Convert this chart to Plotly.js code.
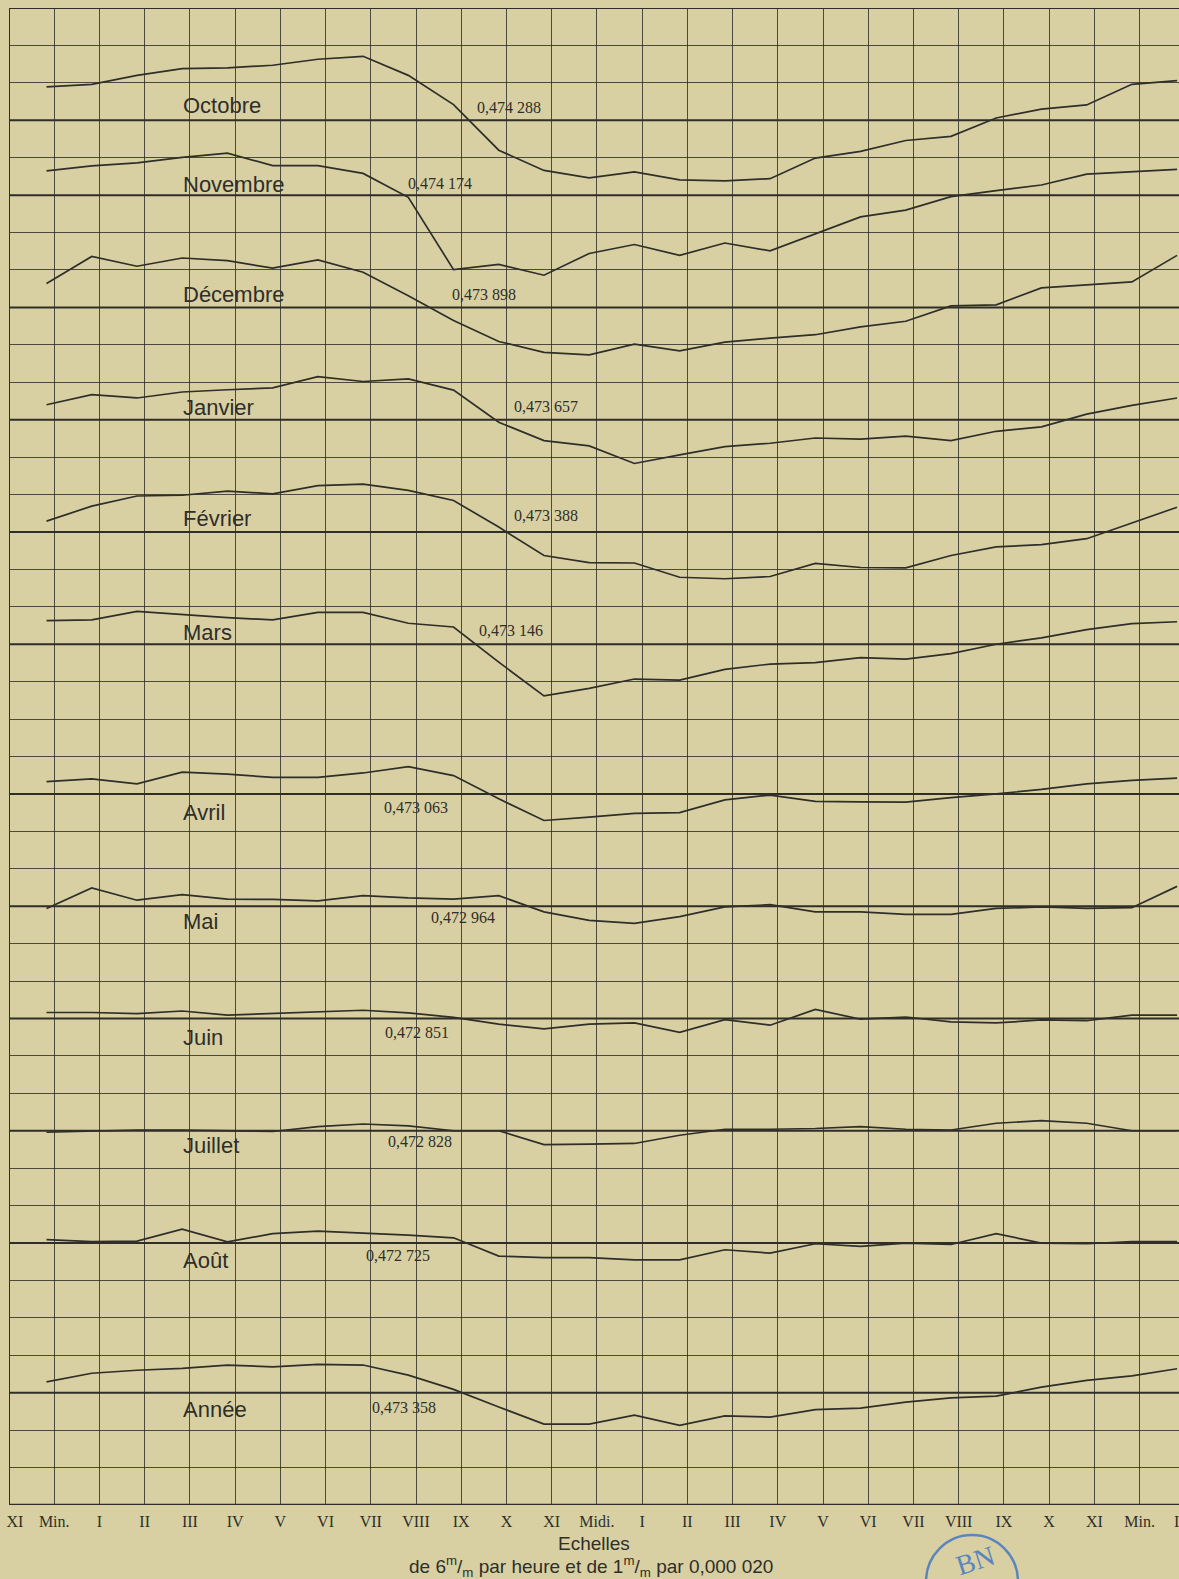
<!DOCTYPE html>
<html>
<head>
<meta charset="utf-8">
<script src="https://cdn.plot.ly/plotly-3.0.1.min.js"></script>
<style>
html, body { margin:0; padding:0; overflow:hidden; background:#d8d0a3; }
#chart { width:1230px; height:1579px; }
</style>
</head>
<body>
<div id="chart"></div>
<script>
// ---------- DATA ----------
// hour of each reading (0 = minuit ... 24 = minuit suivant, 25 = I h)
const hours = [0,1,2,3,4,5,6,7,8,9,10,11,12,13,14,15,16,17,18,19,20,21,22,23,24,25];
// hour-axis tick labels (from XI of the previous day to I of the next day)
const tickHours = [-1,0,1,2,3,4,5,6,7,8,9,10,11,12,13,14,15,16,17,18,19,20,21,22,23,24,25];
const tickLabels = ["\u00a0\u00a0\u00a0XI","Min.","I","II","III","IV","V","VI","VII","VIII","IX","X","XI","Midi.",
                    "I","II","III","IV","V","VI","VII","VIII","IX","X","XI","Min.","I\u00a0\u00a0\u00a0\u00a0"];

const months = ["Octobre","Novembre","Décembre","Janvier","Février","Mars",
                "Avril","Mai","Juin","Juillet","Août","Année"];
// monthly mean values (printed beside each curve)
const means = [0.474288, 0.474174, 0.473898, 0.473657, 0.473388, 0.473146,
               0.473063, 0.472964, 0.472851, 0.472828, 0.472725, 0.473358];

// hourly departures from the mean, in millionths (0,000001)
const octobre  = [89, 96, 120, 138, 140, 147, 163, 171, 120, 42, -80, -134, -154, -138, -159, -162, -156, -101, -83, -54, -43, 6, 30, 41, 96, 106];
const novembre = [65, 78, 86, 101, 112, 79, 79, 58, -6, -199, -185, -214, -156, -132, -161, -128, -149, -103, -58, -40, -4, 12, 27, 56, 63, 69];
const decembre = [64, 136, 110, 132, 125, 105, 127, 94, 31, -35, -91, -120, -127, -98, -116, -93, -82, -73, -52, -37, 4, 7, 52, 60, 68, 139];
const janvier  = [40, 67, 58, 74, 80, 85, 115, 102, 109, 79, -7, -56, -70, -117, -94, -72, -63, -49, -52, -44, -56, -31, -19, 15, 38, 58];
const fevrier  = [29, 69, 96, 98, 109, 102, 124, 128, 111, 84, 13, -63, -82, -83, -121, -125, -119, -84, -95, -96, -63, -40, -34, -18, 24, 66];
const mars     = [63, 65, 88, 79, 71, 65, 85, 85, 56, 46, -48, -138, -118, -93, -96, -67, -53, -49, -36, -40, -25, 0, 17, 39, 55, 60];
const avril    = [33, 40, 27, 58, 53, 44, 44, 56, 73, 49, -13, -71, -62, -52, -50, -16, -3, -20, -21, -22, -10, 0, 12, 27, 36, 42];
const mai      = [-6, 49, 16, 31, 19, 18, 14, 28, 22, 19, 28, -15, -38, -46, -28, -2, 4, -15, -15, -22, -22, -6, -2, -6, -4, 53];
const juin     = [16, 16, 13, 20, 9, 13, 18, 22, 15, 3, -15, -28, -15, -12, -37, -3, -18, 24, -2, 4, -9, -12, -4, -6, 9, 9];
const juillet  = [-4, 0, 2, 2, 0, -2, 11, 18, 13, 0, 0, -37, -36, -34, -12, 4, 4, 6, 11, 4, 2, 20, 27, 20, 0, 0];
const aout     = [9, 4, 5, 37, 3, 25, 32, 27, 21, 14, -35, -39, -39, -45, -45, -18, -27, -2, -9, 0, -4, 25, 0, -2, 4, 4];
const annee    = [29, 52, 60, 65, 74, 69, 76, 74, 47, 9, -38, -84, -84, -60, -87, -62, -65, -45, -41, -25, -14, -9, 15, 33, 45, 64];

const series = [octobre, novembre, decembre, janvier, fevrier, mars, avril, mai, juin, juillet, aout, annee];

// ---------- LAYOUT / STYLE ----------
const ROWS = 40;                       // grid rows (1 row = 5 mm = 0,000100)
const UNIT = 100;                      // millionths per grid row
const baseRow = [3,5,8,11,14,17,21,24,27,30,33,37];   // row of each mean line, counted from top
const nameDy  = [0.39,0.29,0.35,0.32,0.37,0.32,-0.5,-0.4,-0.5,-0.4,-0.48,-0.45];
const valX    = [10.06,8.52,9.51,10.88,10.88,10.11,8.01,9.05,8.03,8.08,7.61,7.74];
const valDy   = [0.34,0.32,0.35,0.35,0.43,0.37,-0.37,-0.29,-0.37,-0.29,-0.32,-0.40];

const INK = '#2f2e29';
const PAPER = '#d8d0a3';
const W = 1230, H = 1579, ML = 9, MT = 8, MB = 74;
const plotW = W - ML, plotH = H - MT - MB;
const pxX = px => (px - ML) / plotW;          // page px -> paper x
const pxY = py => (H - MB - py) / plotH;      // page px -> paper y

function fmt(v) {
  const s = v.toFixed(6).replace('.', ',');
  return s.slice(0, 5) + ' ' + s.slice(5);
}

const traces = series.map((dev, i) => ({
  type: 'scatter', mode: 'lines',
  x: hours,
  y: dev.map(d => (ROWS - baseRow[i]) + d / UNIT),
  xaxis: 'x2', yaxis: 'y',
  line: { color: INK, width: 1.7 },
  hoverinfo: 'skip', showlegend: false
}));

const shapes = [];
baseRow.forEach(r => shapes.push({
  type: 'line', xref: 'paper', x0: 0, x1: 1, yref: 'y', y0: ROWS - r, y1: ROWS - r,
  line: { color: INK, width: 2 }, layer: 'above'
}));
shapes.push({ type:'line', xref:'paper', x0:0, x1:1, yref:'y', y0:ROWS, y1:ROWS, line:{color:INK, width:2.2}, layer:'above' });
shapes.push({ type:'line', xref:'paper', x0:0, x1:1, yref:'y', y0:0, y1:0, line:{color:INK, width:2.6}, layer:'above' });
shapes.push({ type:'line', xref:'x', x0:-1, x1:-1, yref:'paper', y0:0, y1:1, line:{color:INK, width:2}, layer:'above' });
// library stamp
shapes.push({ type:'circle', xref:'paper', yref:'paper',
  x0: pxX(926), x1: pxX(1018), y0: pxY(1628), y1: pxY(1535),
  line: { color:'#5b86bd', width:2.5 }, fillcolor:'rgba(0,0,0,0)', layer:'above' });

const annotations = [];
months.forEach((m, i) => {
  annotations.push({
    text: m, xref:'x', yref:'y', x: 2.8, y: (ROWS - baseRow[i]) + nameDy[i],
    xanchor:'left', yanchor:'middle', showarrow:false,
    font: { family:'Liberation Sans, Arial, sans-serif', size:22, color:INK }
  });
  annotations.push({
    text: fmt(means[i]), xref:'x', yref:'y', x: valX[i], y: (ROWS - baseRow[i]) + valDy[i],
    xanchor:'center', yanchor:'middle', showarrow:false,
    font: { family:'Liberation Sans Narrow, Liberation Serif, serif', size:16, color:INK }
  });
});
annotations.push({
  text:'Echelles', xref:'x', yref:'paper', x: 11.93, y: pxY(1544),
  xanchor:'center', yanchor:'middle', showarrow:false,
  font:{ family:'Liberation Sans, Arial, sans-serif', size:19, color:INK }
});
annotations.push({
  text:'de 6<sup>m</sup>/<sub>m</sub> par heure et de 1<sup>m</sup>/<sub>m</sub> par 0,000 020',
  xref:'x', yref:'paper', x: 11.87, y: pxY(1566),
  xanchor:'center', yanchor:'middle', showarrow:false,
  font:{ family:'Liberation Sans, Arial, sans-serif', size:19, color:INK }
});
annotations.push({
  text:'BN', xref:'paper', yref:'paper', x: pxX(975), y: pxY(1561),
  xanchor:'center', yanchor:'middle', showarrow:false, textangle:-18,
  font:{ family:'Liberation Serif, serif', size:28, color:'#5b86bd' }
});

const layout = {
  width: W, height: H,
  margin: { l: ML, r: 0, t: MT, b: MB, pad: 0 },
  paper_bgcolor: PAPER, plot_bgcolor: PAPER,
  showlegend: false,
  xaxis: {
    range: [-1, 26], tickmode:'array', tickvals: tickHours, ticktext: tickLabels,
    showgrid: true, gridcolor:'rgba(40,40,34,0.8)', gridwidth: 1,
    zeroline:false, showline:false, ticks:'', tickangle:0, ticklabelstandoff: 5,
    ticklabeloverflow:'allow',
    tickfont:{ family:'Liberation Serif, serif', size:16, color:INK }, fixedrange:true
  },
  xaxis2: {
    overlaying:'x', anchor:'y', range: [-1 + 0.17, 26 + 0.17],
    visible:false, showgrid:false, zeroline:false, fixedrange:true
  },
  yaxis: {
    range: [0, ROWS], tickmode:'linear', tick0:0, dtick:1,
    showgrid:true, gridcolor:'rgba(40,40,34,0.8)', gridwidth:1,
    showticklabels:false, zeroline:false, showline:false, ticks:'', fixedrange:true
  },
  shapes, annotations
};

Plotly.newPlot('chart', traces, layout, { staticPlot:true, displayModeBar:false });
</script>
</body>
</html>
